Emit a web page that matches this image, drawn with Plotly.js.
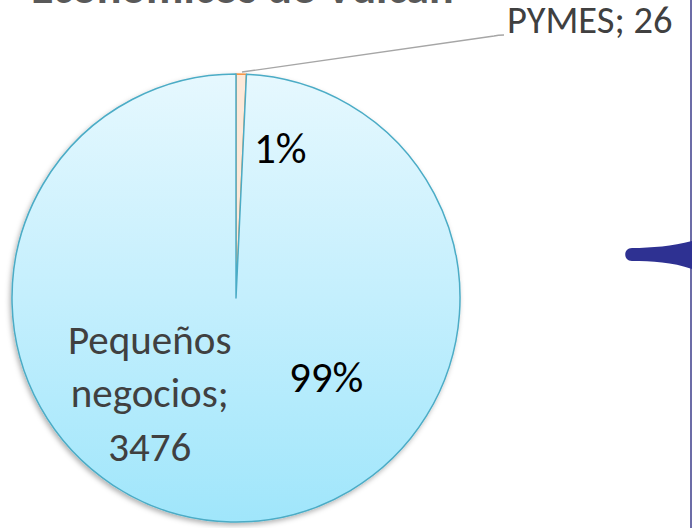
<!DOCTYPE html>
<html>
<head>
<meta charset="utf-8">
<script src="https://cdn.plot.ly/plotly-3.0.1.min.js"></script>
<style>html,body{margin:0;padding:0;background:#fff;}#chart{width:692px;height:528px;}</style>
</head>
<body>
<div id="chart"></div>
<script>
// Data
const categories = ["PYMES", "Pequeños negocios"];
const values = [26, 3476];
const sliceColors = ["#fde9d9", "#c4effd"];
const lineColors = ["#f79646", "#4bacc6"];
const titleText = "Económicos de Vulcan";

const W = 692, H = 528;
const px = x => x / W;
const py = y => 1 - y / H;
const total = values.reduce((a, b) => a + b, 0);
const pct = v => Math.round(v / total * 100) + "%";
const FONT = "Carlito, Lato, 'Open Sans', sans-serif";

const trace = {
  type: "pie",
  labels: categories,
  values: values,
  sort: false,
  direction: "clockwise",
  rotation: 0,
  textinfo: "none",
  hoverinfo: "none",
  showlegend: false,
  marker: { colors: sliceColors, line: { color: lineColors, width: 1.5 } },
  domain: { x: [px(12), px(460)], y: [py(524), py(72)] }
};

const annotations = [
  { text: titleText, x: px(242), y: py(17), xref: "paper", yref: "paper", xanchor: "center", yanchor: "bottom",
    showarrow: false, font: { family: FONT, size: 46, color: "#595959", weight: "bold" } },
  { text: categories[0] + "; " + values[0], x: px(505), y: py(20), xref: "paper", yref: "paper", xanchor: "left", yanchor: "middle",
    showarrow: false, font: { family: FONT, size: 38.5, color: "#404040" } },
  { text: pct(values[0]), x: px(280), y: py(148), xref: "paper", yref: "paper", xanchor: "center", yanchor: "middle",
    showarrow: false, font: { family: FONT, size: 43, color: "#000000" } },
  { text: pct(values[1]), x: px(326), y: py(377), xref: "paper", yref: "paper", xanchor: "center", yanchor: "middle",
    showarrow: false, font: { family: FONT, size: 43, color: "#000000" } },
  { text: "Pequeños<br>negocios;<br>" + values[1], x: px(149), y: py(393), xref: "paper", yref: "paper", xanchor: "center", yanchor: "middle",
    showarrow: false, font: { family: FONT, size: 41, color: "#404040" } }
];

const shapes = [
  // leader line for PYMES label
  { type: "path", xref: "paper", yref: "paper",
    path: `M ${px(242)} ${py(72)} L ${px(494)} ${py(36)} Q ${px(498)} ${py(35)} ${px(504)} ${py(35)}`,
    line: { color: "#a6a6a6", width: 1.3 } },
  // slide decoration: right border
  { type: "line", xref: "paper", yref: "paper", x0: px(691), x1: px(691), y0: 0, y1: 1,
    line: { color: "#3b3b8a", width: 1.5 } },
  // slide decoration: arrow tail
  { type: "path", xref: "paper", yref: "paper",
    path: `M ${px(692)} ${py(241)} C ${px(672)} ${py(246)} ${px(652)} ${py(248)} ${px(632)} ${py(248)} ` +
          `C ${px(623)} ${py(248)} ${px(623)} ${py(261)} ${px(632)} ${py(261)} ` +
          `C ${px(652)} ${py(261)} ${px(672)} ${py(262)} ${px(692)} ${py(269)} Z`,
    fillcolor: "#2e3192", line: { width: 0 } }
];

const layout = {
  width: W, height: H,
  margin: { l: 0, r: 0, t: 0, b: 0 },
  paper_bgcolor: "#ffffff",
  plot_bgcolor: "#ffffff",
  annotations: annotations,
  shapes: shapes
};

Plotly.newPlot("chart", [trace], layout, { displayModeBar: false, staticPlot: true }).then(gd => {
  try {
    const svg = gd.querySelector("svg.main-svg");
    const NS = "http://www.w3.org/2000/svg";
    let defs = svg.querySelector("defs");
    if (!defs) { defs = document.createElementNS(NS, "defs"); svg.insertBefore(defs, svg.firstChild); }
    const grad = document.createElementNS(NS, "linearGradient");
    grad.setAttribute("id", "pieGrad");
    grad.setAttribute("x1", "0"); grad.setAttribute("y1", "0");
    grad.setAttribute("x2", "0"); grad.setAttribute("y2", "1");
    [["0", "#e6f8fe"], ["0.5", "#c4effd"], ["1", "#a0e6fb"]].forEach(([o, c]) => {
      const s = document.createElementNS(NS, "stop");
      s.setAttribute("offset", o); s.setAttribute("stop-color", c);
      grad.appendChild(s);
    });
    defs.appendChild(grad);
    const filt = document.createElementNS(NS, "filter");
    filt.setAttribute("id", "pieShadow");
    filt.setAttribute("x", "-10%"); filt.setAttribute("y", "-10%");
    filt.setAttribute("width", "120%"); filt.setAttribute("height", "120%");
    const ds = document.createElementNS(NS, "feDropShadow");
    ds.setAttribute("dx", "-1.5"); ds.setAttribute("dy", "2.5");
    ds.setAttribute("stdDeviation", "2.5");
    ds.setAttribute("flood-color", "#000"); ds.setAttribute("flood-opacity", "0.3");
    filt.appendChild(ds);
    defs.appendChild(filt);
    const paths = gd.querySelectorAll("g.slice path.surface");
    if (paths.length > 1) {
      const big = paths[1];
      big.style.fill = "url(#pieGrad)";
      big.parentNode.parentNode.setAttribute("filter", "url(#pieShadow)");
    }
  } catch (e) {}
});
</script>
</body>
</html>
